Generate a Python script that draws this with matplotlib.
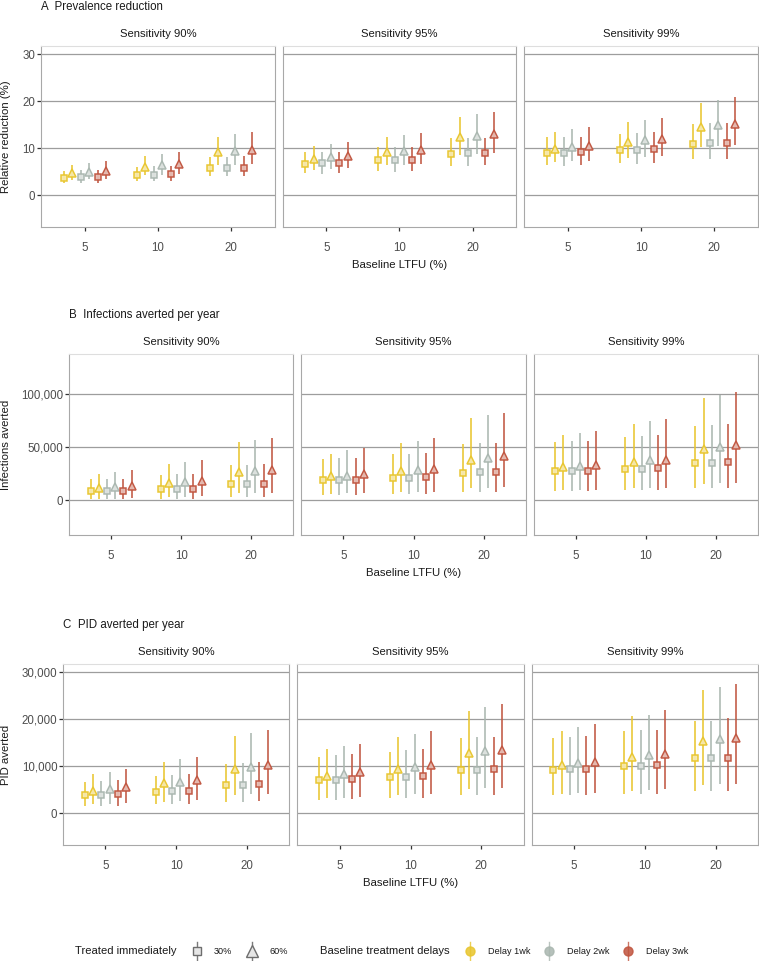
import numpy as np
import matplotlib
matplotlib.use("Agg")
import matplotlib.pyplot as plt
import matplotlib as mpl
from matplotlib.colors import to_rgb

mpl.rcParams.update({
    "font.family": ["Liberation Sans", "DejaVu Sans"],
    "font.size": 8,
})

# ---------------- data ----------------
ltfu = ["5", "10", "20"]
sens = ["Sensitivity 90%", "Sensitivity 95%", "Sensitivity 99%"]
delays = ["Delay 1wk", "Delay 2wk", "Delay 3wk"]
treated = ["30%", "60%"]
delay_cols = ["#E8C52C", "#A9B6AF", "#C0543E"]

# A: relative prevalence reduction (%), [sensitivity][ltfu][delay x treated]
prev_mid = [
    [[3.7, 4.7, 3.8, 5.0, 3.8, 5.2], [4.4, 6.1, 4.4, 6.4, 4.5, 6.6], [5.8, 9.1, 5.8, 9.4, 5.9, 9.7]],
    [[6.7, 7.7, 6.8, 8.1, 6.9, 8.3], [7.4, 9.1, 7.5, 9.4, 7.6, 9.6], [8.8, 12.3, 8.9, 12.6, 9.0, 13.0]],
    [[8.9, 9.9, 9.0, 10.3, 9.1, 10.5], [9.6, 11.4, 9.6, 11.7, 9.8, 12.0], [11.0, 14.6, 11.1, 14.9, 11.2, 15.2]],
]
prev_lo = [
    [[2.6, 3.2, 2.7, 3.4, 2.7, 3.5], [3.1, 4.3, 3.1, 4.4, 3.1, 4.5], [4.1, 6.4, 4.1, 6.5, 4.1, 6.7]],
    [[4.8, 5.4, 4.6, 5.5, 4.8, 5.7], [5.1, 6.4, 5.0, 6.4, 5.1, 6.6], [6.3, 8.5, 6.3, 8.7, 6.4, 8.9]],
    [[6.4, 7.0, 6.3, 7.2, 6.4, 7.3], [6.8, 8.0, 6.7, 8.2, 6.8, 8.4], [7.8, 10.3, 7.8, 10.4, 7.8, 10.6]],
]
prev_hi = [
    [[5.2, 6.4, 5.3, 6.9, 5.4, 7.3], [6.1, 8.3, 6.2, 8.8, 6.3, 9.2], [8.1, 12.5, 8.2, 13.0, 8.3, 13.5]],
    [[9.2, 10.5, 9.1, 10.9, 9.3, 11.4], [10.2, 12.4, 10.2, 12.9, 10.3, 13.3], [12.1, 16.6, 12.1, 17.3, 12.2, 17.8]],
    [[12.3, 13.4, 12.3, 14.0, 12.5, 14.5], [13.1, 15.5, 13.3, 16.1, 13.4, 16.5], [15.2, 19.7, 15.3, 20.3, 15.4, 20.8]],
]

# B: infections averted per year (thousands)
inf_mid = [
    [[8.4, 11.2, 8.8, 12.2, 8.8, 13.1], [10.3, 16.0, 10.6, 16.9, 11.0, 17.8], [15.0, 26.6, 15.3, 27.5, 15.6, 28.1]],
    [[18.8, 22.5, 19.0, 23.0, 19.0, 24.4], [21.0, 27.2, 21.2, 28.1, 21.6, 29.0], [25.9, 38.1, 26.3, 39.7, 26.6, 41.3]],
    [[27.2, 30.9, 27.5, 32.2, 27.5, 32.8], [29.7, 36.3, 29.7, 37.5, 30.0, 38.1], [35.0, 48.4, 35.3, 50.0, 35.6, 51.6]],
]
inf_lo = [
    [[0.7, 1.2, 0.7, 1.5, 0.8, 1.8], [1.4, 3.1, 1.2, 3.5, 1.5, 3.8], [3.0, 6.8, 3.0, 7.0, 3.5, 7.0]],
    [[5.3, 5.9, 5.0, 6.5, 5.3, 6.5], [5.9, 7.5, 5.9, 7.8, 5.9, 8.1], [7.5, 11.3, 7.5, 11.6, 7.5, 12.0]],
    [[8.4, 9.4, 8.4, 9.4, 8.4, 9.7], [9.4, 11.3, 9.4, 11.3, 9.4, 11.3], [11.3, 15.3, 11.3, 15.9, 11.3, 16.3]],
]
inf_hi = [
    [[20.0, 24.8, 19.7, 27.0, 20.3, 28.8], [24.0, 34.0, 24.4, 36.0, 25.0, 38.0], [33.0, 55.0, 33.5, 57.0, 34.5, 59.0]],
    [[38.5, 44.0, 40.0, 47.0, 40.0, 49.0], [43.5, 54.0, 43.8, 56.0, 44.8, 59.0], [53.1, 77.5, 53.8, 80.0, 53.8, 82.2]],
    [[54.7, 61.3, 55.6, 63.4, 55.9, 65.6], [59.7, 71.9, 60.6, 74.4, 61.3, 76.6], [70.3, 96.3, 70.9, 99.4, 71.6, 101.9]],
]

# C: PID averted per year (thousands)
pid_mid = [
    [[3.8, 4.8, 3.9, 5.2, 4.0, 5.5], [4.6, 6.4, 4.7, 6.7, 4.8, 7.0], [6.0, 9.5, 6.1, 9.9, 6.2, 10.2]],
    [[7.0, 8.0, 7.1, 8.4, 7.2, 8.7], [7.7, 9.5, 7.8, 9.9, 7.9, 10.2], [9.2, 12.9, 9.3, 13.3, 9.4, 13.5]],
    [[9.3, 10.3, 9.4, 10.6, 9.4, 11.0], [10.1, 12.0, 10.1, 12.3, 10.2, 12.6], [11.7, 15.4, 11.8, 15.7, 11.8, 16.1]],
]
pid_lo = [
    [[1.5, 2.0, 1.5, 2.0, 1.6, 2.1], [1.9, 2.5, 1.9, 2.6, 2.0, 2.8], [2.5, 3.9, 2.5, 4.0, 2.6, 4.0]],
    [[2.8, 3.2, 2.9, 3.3, 3.0, 3.5], [3.2, 3.8, 3.2, 4.0, 3.2, 4.1], [3.8, 5.1, 3.8, 5.3, 3.8, 5.4]],
    [[3.9, 4.2, 3.9, 4.3, 3.9, 4.4], [4.2, 4.8, 4.2, 5.0, 4.2, 5.1], [4.7, 6.1, 4.7, 6.2, 4.8, 6.3]],
]
pid_hi = [
    [[6.7, 8.3, 6.9, 8.8, 7.0, 9.4], [8.0, 11.0, 8.1, 11.5, 8.3, 12.0], [10.5, 16.5, 10.7, 17.1, 10.8, 17.7]],
    [[12.0, 13.6, 12.3, 14.3, 12.6, 14.8], [13.1, 16.3, 13.4, 16.9, 13.6, 17.5], [16.0, 21.8, 16.2, 22.6, 16.3, 23.3]],
    [[16.0, 17.6, 16.2, 18.3, 16.4, 19.0], [17.5, 20.7, 17.7, 21.0, 17.7, 21.9], [19.7, 26.2, 19.7, 26.8, 20.2, 27.4]],
]

# ---------------- layout (pixels) ----------------
W, H = 759, 961
fig = plt.figure(figsize=(W / 100, H / 100), dpi=100)

def fx(x):
    return x / W

def fy(y):
    return 1 - y / H

def tint(c, f=0.7):
    r, g, b = to_rgb(c)
    return (r + (1 - r) * f, g + (1 - g) * f, b + (1 - b) * f)

panels = [
    dict(tag="A", title="Prevalence reduction", ylab="Relative reduction (%)",
         mid=prev_mid, lo=prev_lo, hi=prev_hi, lim=(-5, 30), ticks=[0, 10, 20, 30],
         fmt=lambda v: f"{v:g}", left=41, top=46, bot=227),
    dict(tag="B", title="Infections averted per year", ylab="Infections averted",
         mid=inf_mid, lo=inf_lo, hi=inf_hi, lim=(-25, 130), ticks=[0, 50, 100],
         fmt=lambda v: f"{v * 1000:,.0f}", left=69, top=354, bot=535),
    dict(tag="C", title="PID averted per year", ylab="PID averted",
         mid=pid_mid, lo=pid_lo, hi=pid_hi, lim=(-5, 30), ticks=[0, 10, 20, 30],
         fmt=lambda v: f"{v * 1000:,.0f}", left=63, top=664, bot=845),
]

right, gap = 758, 8
dodge = 0.7
n_ser = len(delays) * len(treated)
offsets = (np.arange(n_ser) - (n_ser - 1) / 2) * dodge / n_ser
grid_col = "#9d9d9d"
txt_col = "#4d4d4d"

for p in panels:
    fw = (right - p["left"] - 2 * gap) / 3
    lo_l, hi_l = p["lim"]
    ex = (hi_l - lo_l) * 0.05
    for si, s in enumerate(sens):
        x0 = p["left"] + si * (fw + gap)
        ax = fig.add_axes([fx(x0), fy(p["bot"]), fw / W, (p["bot"] - p["top"]) / H])
        ax.set_xlim(0.4, 3.6)
        ax.set_ylim(lo_l - ex, hi_l + ex)
        for t in p["ticks"]:
            ax.axhline(t, color=grid_col, lw=0.9, zorder=0)
        for gi in range(len(ltfu)):
            for k in range(n_ser):
                di, ti = divmod(k, len(treated))
                col = delay_cols[di]
                xx = gi + 1 + offsets[k]
                ax.plot([xx, xx], [p["lo"][si][gi][k], p["hi"][si][gi][k]],
                        color=col, lw=1.4, alpha=0.8, solid_capstyle="butt", zorder=2)
                ax.plot(xx, p["mid"][si][gi][k], marker="s" if ti == 0 else "^",
                        ms=4.5 if ti == 0 else 5.4, mec=col, mfc=tint(col, 0.6),
                        mew=1.1, alpha=0.95, zorder=3)
        ax.set_xticks([1, 2, 3])
        ax.set_xticklabels(ltfu)
        ax.tick_params(axis="x", length=3, width=0.9, color="#333333", pad=7.5,
                       labelsize=8.3, labelcolor=txt_col)
        if si == 0:
            ax.set_yticks(p["ticks"])
            ax.set_yticklabels([p["fmt"](v) for v in p["ticks"]])
            ax.tick_params(axis="y", length=3, width=0.9, color="#333333", pad=1,
                           labelsize=8.3, labelcolor=txt_col)
        else:
            ax.set_yticks([])
        for side in ["left", "right", "bottom"]:
            ax.spines[side].set_color("#a8a8a8")
            ax.spines[side].set_linewidth(0.8)
        ax.spines["top"].set_color("#dedede")
        ax.spines["top"].set_linewidth(0.8)
        fig.text(fx(x0 + fw / 2), fy(p["top"] - 12), s, ha="center", va="center",
                 fontsize=8.1, color="#1a1a1a")
    # panel title, axis titles
    fig.text(fx(p["left"]), fy(p["top"] - 39), f"{p['tag']}  {p['title']}",
             ha="left", va="center", fontsize=8.3, color="#1a1a1a")
    fig.text(fx((p["left"] + right) / 2), fy(p["bot"] + 38), "Baseline LTFU (%)",
             ha="center", va="center", fontsize=8.2, color="#1a1a1a")
    fig.text(fx(6), fy((p["top"] + p["bot"]) / 2), p["ylab"], ha="center",
             va="center", rotation=90, fontsize=8.2, color="#1a1a1a")

# ---------------- legend ----------------
lax = fig.add_axes([0, 0, 1, 1])
lax.set_xlim(0, W)
lax.set_ylim(H, 0)
lax.axis("off")
ly = 951
lax.text(75, ly, "Treated immediately", ha="left", va="center", fontsize=8.1, color="#1a1a1a")
for x, m, lab in [(197, "s", treated[0]), (252, "^", treated[1])]:
    lax.plot([x, x], [ly - 9, ly + 9], color="#7a7a7a", lw=1.0)
    lax.plot(x, ly, marker=m, ms=5.5 if m == "s" else 8, mec="#6e6e6e", mfc="#e6e6e6", mew=1.0)
    lax.text(x + 17, ly, lab, ha="left", va="center", fontsize=6.6, color="#1a1a1a")
lax.text(320, ly, "Baseline treatment delays", ha="left", va="center", fontsize=8.1, color="#1a1a1a")
for x, col, lab in zip([470, 549, 628], delay_cols, delays):
    lax.plot([x, x], [ly - 9, ly + 9], color=col, lw=1.0, alpha=0.8)
    lax.plot(x, ly, marker="o", ms=6.5, mec=col, mfc=col, mew=1.0, alpha=0.85)
    lax.text(x + 18, ly, lab, ha="left", va="center", fontsize=6.6, color="#1a1a1a")

fig.savefig("out.png", dpi=100)
